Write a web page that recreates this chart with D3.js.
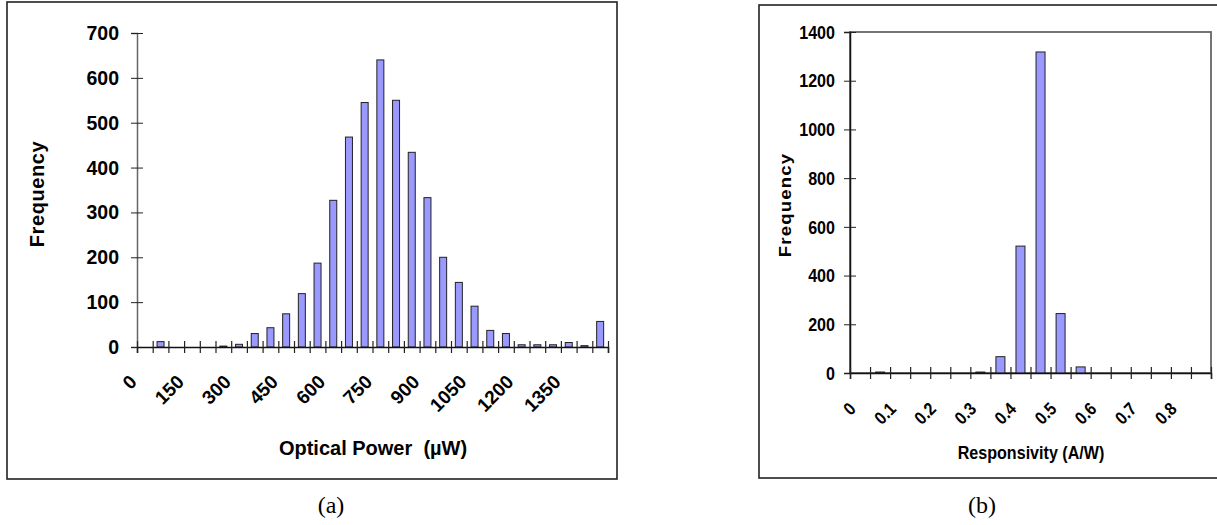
<!DOCTYPE html>
<html>
<head>
<meta charset="utf-8">
<title>histograms</title>
<script src="https://cdn.jsdelivr.net/npm/d3@7"></script>
<style>
  body { margin: 0; background: #fff; }
  text { font-family: "Liberation Sans", Arial, sans-serif; font-weight: bold; fill: #000; }
  .cap { font-family: "Liberation Serif", "Times New Roman", serif; font-weight: normal; }
</style>
</head>
<body>
<script>
// (a) optical power, 50 uW bins
var powerBins = [0,50,100,150,200,250,300,350,400,450,500,550,600,650,700,
                 750,800,850,900,950,1000,1050,1100,1150,1200,1250,1300,1350,1400,1450];
var powerFreq = [0,12,0,0,0,2,6,30,43,74,119,187,327,468,545,
                 640,550,434,333,200,144,91,37,30,5,5,5,10,3,57];
var powerLabels = [0,150,300,450,600,750,900,1050,1200,1350];
var powerYTicks = [0,100,200,300,400,500,600,700];

// (b) responsivity, 0.05 A/W bins
var respBins = [0,0.05,0.1,0.15,0.2,0.25,0.3,0.35,0.4,0.45,0.5,0.55,0.6,0.65,0.7,0.75,0.8,0.85];
var respFreq = [0,4,0,0,0,0,4,67,521,1318,244,25,0,0,0,0,0,0];
var respLabels = [0,0.1,0.2,0.3,0.4,0.5,0.6,0.7,0.8];
var respYTicks = [0,200,400,600,800,1000,1200,1400];

var width = 1217, height = 525;
var svg = d3.select("body").append("svg")
    .attr("width", width)
    .attr("height", height);

function panel(c) {
  var g = svg.append("g");

  // outer frame
  g.append("rect")
      .attr("x", c.frame[0]).attr("y", c.frame[1])
      .attr("width", c.frame[2]).attr("height", c.frame[3])
      .attr("fill", "none").attr("stroke", "#222").attr("stroke-width", 1.6);

  var x = d3.scaleLinear().domain(c.xDomain).range([c.left, c.right]);
  var y = d3.scaleLinear().domain(c.yDomain).range([c.bottom, c.top]);

  if (c.plotBox) {
    g.append("rect")
        .attr("x", c.left).attr("y", c.top)
        .attr("width", c.right - c.left).attr("height", c.bottom - c.top)
        .attr("fill", "none").attr("stroke", "#666").attr("stroke-width", 1.8);
  }

  // bars
  g.selectAll(".bar")
    .data(c.freq.map(function(v, i) { return {x0: c.bins[i], v: v}; })
               .filter(function(d) { return d.v > 0; }))
    .enter().append("rect")
      .attr("x", function(d) { return x(d.x0 + c.binW / 2) - c.barW / 2; })
      .attr("y", function(d) { return y(d.v); })
      .attr("width", c.barW)
      .attr("height", function(d) { return c.bottom - y(d.v); })
      .attr("fill", "#9999ff")
      .attr("stroke", "#222")
      .attr("stroke-width", 1);

  // y axis
  var ya = g.append("g")
      .attr("transform", "translate(" + c.left + ",0)")
      .call(d3.axisLeft(y).tickValues(c.yTicks).tickSize(6).tickFormat(""));
  ya.select(".domain").attr("stroke", c.yAxisColor).attr("stroke-width", 1.5);
  ya.selectAll(".tick line").attr("x1", -6).attr("x2", 6).attr("stroke", "#222");

  g.selectAll(".ylab")
    .data(c.yTicks)
    .enter().append("text")
      .attr("transform", function(d) {
        return "translate(" + (c.left - c.yLabGap) + "," + y(d) + ") scale(" + c.sx + ",1)";
      })
      .attr("dy", "0.36em")
      .attr("text-anchor", "end")
      .style("font-size", c.tickFont + "px")
      .text(function(d) { return d; });

  // x axis, ticks on every bin edge
  var edges = c.bins.concat([c.xDomain[1]]);
  var xa = g.append("g")
      .attr("transform", "translate(0," + c.bottom + ")")
      .call(d3.axisBottom(x).tickValues(edges).tickSize(6).tickFormat(""));
  xa.select(".domain").attr("stroke", "#111").attr("stroke-width", 1.5);
  xa.selectAll(".tick line").attr("y1", -6).attr("y2", 6).attr("stroke", "#222").attr("stroke-width", 1.2);

  g.selectAll(".xlab")
    .data(c.xLabels)
    .enter().append("text")
      .attr("transform", function(d) {
        return "translate(" + (x(d) + c.xLabDx) + "," + (c.bottom + c.xLabDy) + ") rotate(-45) scale(" + c.sx + ",1)";
      })
      .attr("text-anchor", "end")
      .style("font-size", c.xTickFont + "px")
      .text(function(d) { return d; });

  // axis titles
  g.append("text")
      .attr("transform", "translate(" + c.yTitle[0] + "," + c.yTitle[1] + ") rotate(-90) scale(1," + c.sx + ")")
      .attr("text-anchor", "middle")
      .attr("dy", "0.35em")
      .style("font-size", c.titleFont + "px")
      .style("letter-spacing", c.yTitleSpacing + "px")
      .text("Frequency");

  g.append("text")
      .attr("transform", "translate(" + c.xTitle[0] + "," + c.xTitle[1] + ") scale(" + c.sx + ",1)")
      .attr("text-anchor", "middle")
      .attr("dy", "0.35em")
      .style("font-size", c.titleFont + "px")
      .style("white-space", "pre")
      .text(c.xTitleText);

  g.append("text")
      .attr("class", "cap")
      .attr("x", c.cap[0]).attr("y", c.cap[1])
      .attr("text-anchor", "middle")
      .style("font-size", "24px")
      .text(c.capText);
}

panel({
  frame: [7, 2, 610, 477],
  bins: powerBins, freq: powerFreq, binW: 50, barW: 7,
  xDomain: [0, 1500], yDomain: [0, 700],
  left: 137, right: 608, top: 33, bottom: 347,
  yTicks: powerYTicks, xLabels: powerLabels,
  yAxisColor: "#666", plotBox: false,
  sx: 1, tickFont: 19.5, xTickFont: 19, titleFont: 20,
  yLabGap: 18, xLabDx: 1, xLabDy: 36,
  yTitle: [37, 194], yTitleSpacing: 0.6,
  xTitle: [373, 448], xTitleText: "Optical Power  (\u00b5W)",
  cap: [331, 513], capText: "(a)"
});

panel({
  frame: [759, 5, 480, 473],
  bins: respBins, freq: respFreq, binW: 0.05, barW: 9,
  xDomain: [0, 0.9], yDomain: [0, 1400],
  left: 850, right: 1211, top: 32, bottom: 373,
  yTicks: respYTicks, xLabels: respLabels,
  yAxisColor: "#111", plotBox: true,
  sx: 0.87, tickFont: 18.5, xTickFont: 18, titleFont: 18.5,
  yLabGap: 15, xLabDx: 7, xLabDy: 37,
  yTitle: [785, 205], yTitleSpacing: 1.2,
  xTitle: [1031, 453], xTitleText: "Responsivity (A/W)",
  cap: [982, 513], capText: "(b)"
});
</script>
</body>
</html>
